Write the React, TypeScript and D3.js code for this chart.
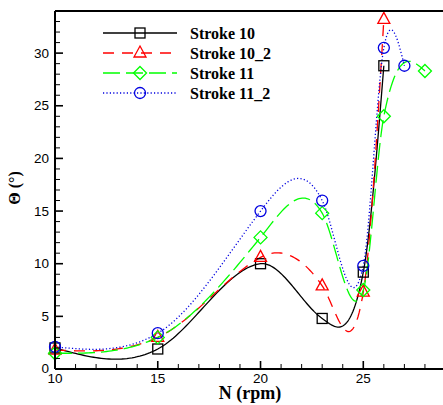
import React from "react";
import * as d3 from "d3";

// ---- data ----
const nStroke10 = [10, 15, 20, 23, 25, 26];
const thetaStroke10 = [2.0, 1.9, 10.0, 4.8, 9.2, 28.8];
const nStroke10_2 = [10, 15, 20, 23, 25, 26];
const thetaStroke10_2 = [1.8, 3.0, 10.6, 7.9, 7.3, 33.2];
const nStroke11 = [10, 15, 20, 23, 25, 26, 28];
const thetaStroke11 = [1.5, 3.0, 12.5, 14.8, 7.5, 24.0, 28.3];
const nStroke11_2 = [10, 15, 20, 23, 25, 26, 27];
const thetaStroke11_2 = [2.1, 3.4, 15.0, 16.0, 9.8, 30.5, 28.8];

const seriesNames = ["Stroke 10", "Stroke 10_2", "Stroke 11", "Stroke 11_2"];
const xMajorTicks = [10, 15, 20, 25];
const yMajorTicks = [0, 5, 10, 15, 20, 25, 30];
const xLabel = "N (rpm)";
const yLabel = "Θ (°)";

const W = 443;
const H = 405;
const x = d3.scaleLinear().domain([10, 29]).range([55, 445.5]);
const y = d3.scaleLinear().domain([0, 34]).range([369, 11]);

// smooth cubic Hermite curve through the points; tangents blend a natural
// spline's slopes with finite-difference slopes (softer overshoot)
const BLEND = 0.4;
function smoothCurve(xs: number[], ys: number[]): [number, number][] {
  const n = xs.length;
  const h: number[] = [];
  const s: number[] = [];
  for (let i = 0; i < n - 1; i++) {
    h.push(xs[i + 1] - xs[i]);
    s.push((ys[i + 1] - ys[i]) / h[i]);
  }
  // natural spline second derivatives
  const M = new Array(n).fill(0);
  const a: number[] = [], b: number[] = [], c: number[] = [], d: number[] = [];
  for (let i = 1; i < n - 1; i++) {
    a.push(h[i - 1]);
    b.push(2 * (h[i - 1] + h[i]));
    c.push(h[i]);
    d.push(6 * (s[i] - s[i - 1]));
  }
  const m = b.length;
  for (let i = 1; i < m; i++) {
    const w = a[i] / b[i - 1];
    b[i] -= w * c[i - 1];
    d[i] -= w * d[i - 1];
  }
  const sol = new Array(m).fill(0);
  for (let i = m - 1; i >= 0; i--) sol[i] = (d[i] - (i < m - 1 ? c[i] * sol[i + 1] : 0)) / b[i];
  for (let i = 0; i < m; i++) M[i + 1] = sol[i];
  const natD: number[] = [];
  for (let i = 0; i < n; i++) {
    if (i < n - 1) natD.push(s[i] - (h[i] * (2 * M[i] + M[i + 1])) / 6);
    else natD.push(s[n - 2] + (h[n - 2] * (M[n - 2] + 2 * M[n - 1])) / 6);
  }
  const fdD: number[] = new Array(n).fill(0);
  for (let i = 1; i < n - 1; i++) fdD[i] = (ys[i + 1] - ys[i - 1]) / (xs[i + 1] - xs[i - 1]);
  fdD[0] = (3 * s[0] - fdD[1]) / 2;
  fdD[n - 1] = (3 * s[n - 2] - fdD[n - 2]) / 2;
  const T = natD.map((v, i) => BLEND * v + (1 - BLEND) * fdD[i]);
  const out: [number, number][] = [];
  for (let i = 0; i < n - 1; i++) {
    const steps = 40;
    for (let k = 0; k <= steps; k++) {
      if (i > 0 && k === 0) continue;
      const u = k / steps;
      const h00 = 2 * u * u * u - 3 * u * u + 1;
      const h10 = u * u * u - 2 * u * u + u;
      const h01 = -2 * u * u * u + 3 * u * u;
      const h11 = u * u * u - u * u;
      const v = h00 * ys[i] + h10 * h[i] * T[i] + h01 * ys[i + 1] + h11 * h[i] * T[i + 1];
      out.push([xs[i] + u * h[i], v]);
    }
  }
  return out;
}

const styles = [
  { color: "#000000", dash: "", marker: "square" },
  { color: "#ff0000", dash: "11,8", marker: "triangle" },
  { color: "#00ff00", dash: "17,6", marker: "diamond" },
  { color: "#0000e0", dash: "1.2,2.2", marker: "circle" },
];

function Marker({ kind, cx, cy, color }: { kind: string; cx: number; cy: number; color: string }) {
  const common = { fill: "none", stroke: color, strokeWidth: 1.3 };
  if (kind === "square") return <rect x={cx - 5} y={cy - 5} width={10} height={10} {...common} />;
  if (kind === "circle") return <circle cx={cx} cy={cy} r={5.5} {...common} />;
  if (kind === "triangle")
    return <path d={`M${cx},${cy - 7}L${cx + 6},${cy + 4}L${cx - 6},${cy + 4}Z`} {...common} />;
  return <path d={`M${cx},${cy - 6.5}L${cx + 6.5},${cy}L${cx},${cy + 6.5}L${cx - 6.5},${cy}Z`} {...common} />;
}

export default function App() {
  const series = [
    { xs: nStroke10, ys: thetaStroke10 },
    { xs: nStroke10_2, ys: thetaStroke10_2 },
    { xs: nStroke11, ys: thetaStroke11 },
    { xs: nStroke11_2, ys: thetaStroke11_2 },
  ];
  const line = d3
    .line<[number, number]>()
    .x((d) => x(d[0]))
    .y((d) => y(d[1]));

  const xMinor = d3.range(10, 30, 1);
  const yMinor = d3.range(0, 34, 1);
  const [x0, x1] = x.range();
  const [y0, y1] = y.range();

  return (
    <svg width={W} height={H} style={{ position: "absolute", left: 0, top: 0, background: "#fff" }}>
      {/* curves */}
      {series.map((s, i) => (
        <path
          key={"c" + i}
          d={line(smoothCurve(s.xs, s.ys)) || ""}
          fill="none"
          stroke={styles[i].color}
          strokeWidth={1.3}
          strokeDasharray={styles[i].dash || undefined}
        />
      ))}
      {series.map((s, i) =>
        s.xs.map((xv, j) => (
          <Marker key={`m${i}-${j}`} kind={styles[i].marker} cx={x(xv)} cy={y(s.ys[j])} color={styles[i].color} />
        ))
      )}
      {/* axes frame */}
      <line x1={x0} x2={x0} y1={y0} y2={y1} stroke="#000" strokeWidth={2} />
      <line x1={x0} x2={x1} y1={y0} y2={y0} stroke="#000" strokeWidth={2} />
      <line x1={x0} x2={x1} y1={y1} y2={y1} stroke="#000" strokeWidth={2} />
      {/* ticks */}
      {xMinor.map((v) => (
        <line key={"xm" + v} x1={x(v)} x2={x(v)} y1={y0} y2={y0 - (v % 5 === 0 ? 8 : 5)} stroke="#000" strokeWidth={v % 5 === 0 ? 1.6 : 1} />
      ))}
      {yMinor.map((v) => (
        <line key={"ym" + v} x1={x0} x2={x0 + (v % 5 === 0 ? 8 : 5)} y1={y(v)} y2={y(v)} stroke="#000" strokeWidth={v % 5 === 0 ? 1.6 : 1} />
      ))}
      {xMajorTicks.map((v) => (
        <text key={"xt" + v} x={x(v)} y={383} textAnchor="middle" fontFamily="Liberation Sans, Arial, sans-serif" fontSize={13.5}>
          {v}
        </text>
      ))}
      {yMajorTicks.map((v) => (
        <text key={"yt" + v} x={49} y={y(v)} dy="0.33em" textAnchor="end" fontFamily="Liberation Sans, Arial, sans-serif" fontSize={13.5}>
          {v}
        </text>
      ))}
      <text x={250} y={399} textAnchor="middle" fontFamily="Liberation Serif, Times New Roman, serif" fontWeight="bold" fontSize={18}>
        {xLabel}
      </text>
      <text
        transform="translate(20,188) rotate(-90)"
        textAnchor="middle"
        fontFamily="Liberation Serif, Times New Roman, serif"
        fontWeight="bold"
        fontSize={16}
      >
        {yLabel}
      </text>
      {/* legend */}
      {seriesNames.map((name, i) => {
        const ly = 33 + i * 20;
        return (
          <g key={"lg" + i}>
            <line x1={103} x2={177} y1={ly} y2={ly} stroke={styles[i].color} strokeWidth={1.3} strokeDasharray={styles[i].dash || undefined} />
            <Marker kind={styles[i].marker} cx={140} cy={ly} color={styles[i].color} />
            <text x={190} y={ly} dy="0.35em" fontFamily="Liberation Serif, Times New Roman, serif" fontWeight="bold" fontSize={16}>
              {name}
            </text>
          </g>
        );
      })}
    </svg>
  );
}
